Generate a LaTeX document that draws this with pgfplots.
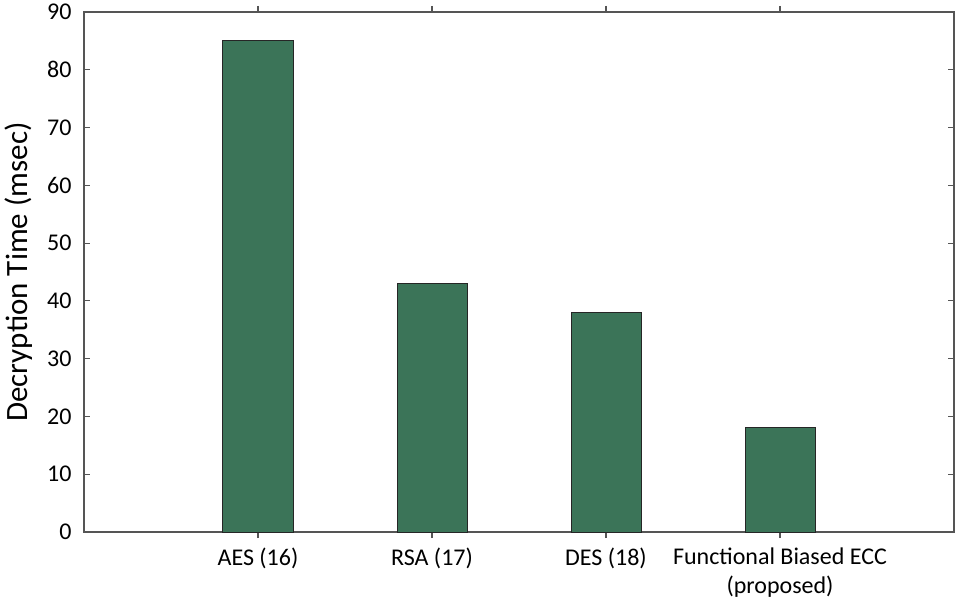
\documentclass[border=0pt]{standalone}
\usepackage{pgfplots}
\pgfplotsset{compat=1.18}
\usepackage{fontspec}
\setmainfont{Carlito}
\definecolor{barg}{RGB}{59,116,88}
\definecolor{axg}{RGB}{85,85,85}
\begin{document}
\begin{tikzpicture}
\begin{axis}[
  name=ax,
  scale only axis,
  width=870pt, height=520pt,
  xmin=0, xmax=5, ymin=0, ymax=90,
  ytick={0,10,...,90},
  xtick={1,2,3,4},
  xticklabels={AES (16), RSA (17), DES (18), {Functional Biased ECC\\(proposed)}},
  tick align=inside,
  major tick length=6pt,
  axis line style={axg, line width=1.1pt},
  tick style={axg, line width=1.1pt},
  ticklabel style={font=\fontsize{24}{29}\selectfont},
  /pgf/number format/assume math mode=true,
  xticklabel style={align=center, yshift=-6pt, anchor=north, text depth=0pt},
  yticklabel style={xshift=-9pt},
  ylabel={Decryption Time (msec)},
  ylabel style={font=\fontsize{31}{36}\selectfont, yshift=8pt},
  ybar, bar width=70pt, bar shift=0pt,
]
\addplot[fill=barg, draw=black!85, line width=1pt] coordinates {(1,85) (2,43) (3,38) (4,18)};
\end{axis}
\pgfresetboundingbox
\path ([xshift=-84pt,yshift=-70pt]ax.south west) rectangle ([xshift=4pt,yshift=12pt]ax.north east);
\end{tikzpicture}
\end{document}
